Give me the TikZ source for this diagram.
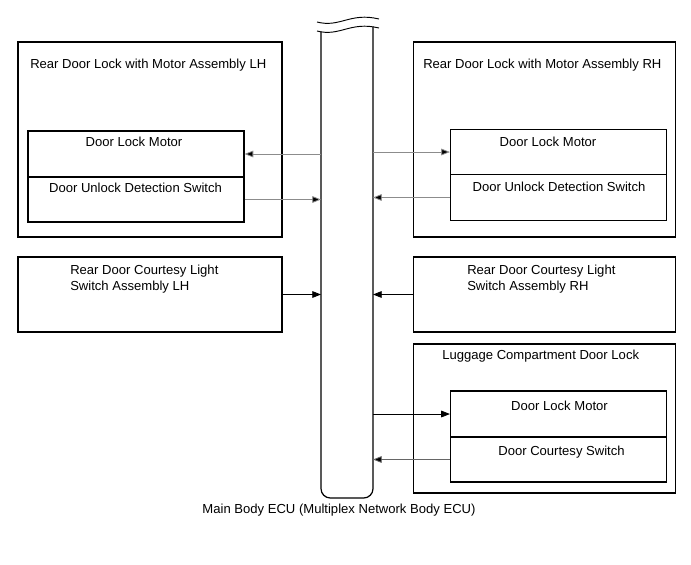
\documentclass[tikz,border=0pt]{standalone}
\usepackage{fontspec}
\setmainfont{Liberation Sans}
\usetikzlibrary{arrows.meta}

\begin{document}
\begin{tikzpicture}
[x=0.75pt,y=-0.75pt
,bx/.style={draw,line width=0.9pt,rectangle,inner sep=0pt}
,part/.style={bx,minimum width=162pt}
,lbl/.style={inner sep=0pt,anchor=base west,font=\fontsize{9.8pt}{12pt}\selectfont}
,clbl/.style={lbl,anchor=base}
,sig/.style={draw=black!45,line width=0.6pt,arrows={-Triangle[length=6.5pt,width=5pt,fill=black]}}
,bus/.style={draw,line width=0.9pt,rounded corners=7pt}
]
\useasboundingbox (0,0) rectangle (691,564);
% outer boxes
\node[bx,minimum width=198pt,minimum height=146.25pt] (lhbox) at (150,139.5) {};
\node[bx,minimum width=196.5pt,minimum height=146.25pt] (rhbox) at (544.5,139.5) {};
\node[bx,minimum width=198pt,minimum height=56.25pt] (lhcty) at (150,294.5) {};
\node[bx,minimum width=196.5pt,minimum height=56.25pt] (rhcty) at (544.5,294.5) {};
\node[bx,minimum width=196.5pt,minimum height=111.75pt] (lugbox) at (544.5,418.5) {};
% inner parts
\node[part,minimum height=34.5pt] (lhmot) at (136,154) {};
\node[part,minimum height=33.75pt] (lhsw) at (136,199.5) {};
\node[part,minimum height=34pt] (rhmot) at (558.5,152) {};
\node[part,minimum height=34pt] (rhsw) at (558.5,197.5) {};
\node[part,minimum height=34.5pt] (lugmot) at (558.5,414) {};
\node[part,minimum height=33.75pt] (lugsw) at (558.5,459.5) {};
% texts
\node[lbl] (lhtitle) at (30,68) {Rear Door Lock with Motor Assembly LH};
\node[lbl] (rhtitle) at (423,68) {Rear Door Lock with Motor Assembly RH};
\node[clbl] (lhmott) at (134,146) {Door Lock Motor};
\node[clbl] (lhswt) at (135.5,192) {Door Unlock Detection Switch};
\node[clbl] (rhmott) at (548,146) {Door Lock Motor};
\node[clbl] (rhswt) at (559,191) {Door Unlock Detection Switch};
\node[lbl,align=left,anchor=north west] (lhctyt) at (70,265) {Rear Door Courtesy Light\\Switch Assembly LH};
\node[lbl,align=left,anchor=north west] (rhctyt) at (467,265) {Rear Door Courtesy Light\\Switch Assembly RH};
\node[lbl] (lugtitle) at (442,359) {Luggage Compartment Door Lock};
\node[clbl] (lugmott) at (559.5,410) {Door Lock Motor};
\node[clbl] (lugswt) at (561.5,455) {Door Courtesy Switch};
\node[clbl] (ecu) at (339,513) {Main Body ECU (Multiplex Network Body ECU)};
% bus
\coordinate (busl) at (321,0);
\coordinate (busr) at (373,0);
\draw[bus] (321,31.6) -- (321,498) -- (373,498) -- (373,26.5);
\draw[line width=0.7pt] (317,22) .. controls (340,28) and (350,12) .. (379,19);
\draw[line width=0.7pt] (317,31) .. controls (340,37) and (350,21) .. (379,28);
% signals
\draw[sig] (lhmot.east -| busl) -- (lhmot.east);
\draw[sig] (lhsw.east) -- (lhsw.east -| busl);
\draw[sig] (rhmot.west -| busr) -- (rhmot.west);
\draw[sig] (rhsw.west) -- (rhsw.west -| busr);
\draw[sig,draw=black] (lhcty.east) -- (lhcty.east -| busl);
\draw[sig,draw=black] (rhcty.west) -- (rhcty.west -| busr);
\draw[sig,draw=black] (lugmot.west -| busr) -- (lugmot.west);
\draw[sig,draw=black!60] (lugsw.west) -- (lugsw.west -| busr);
\end{tikzpicture}
\end{document}
